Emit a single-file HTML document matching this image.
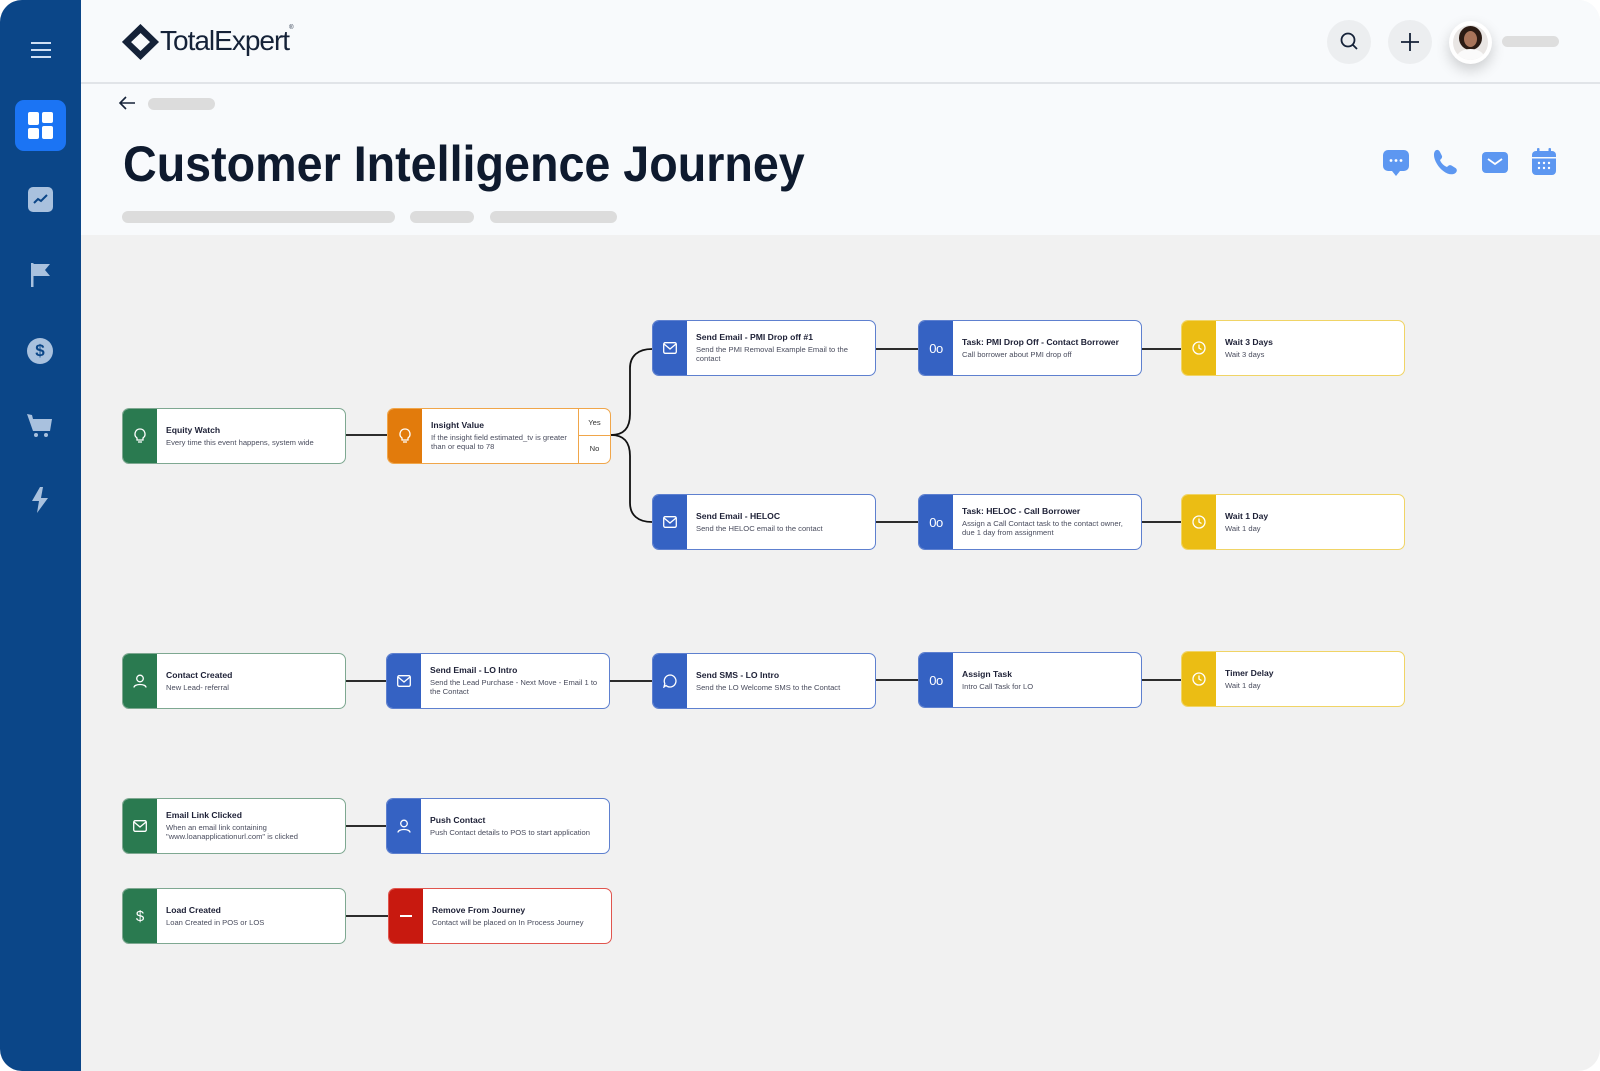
<!DOCTYPE html>
<html><head><meta charset="utf-8">
<style>
*{box-sizing:border-box;margin:0;padding:0}
html,body{width:1600px;height:1071px;overflow:hidden;background:#fff;font-family:"Liberation Sans",sans-serif}
#app{position:absolute;left:0;top:0;width:1600px;height:1071px;border-radius:22px;overflow:hidden;background:#f1f1f1}
#side{position:absolute;left:0;top:0;width:81px;height:1071px;background:#0b4688}
#head{position:absolute;left:81px;top:0;width:1519px;height:235px;background:#f8fafc}
#head .line{position:absolute;left:0;top:82px;width:100%;height:1.5px;background:#e1e4e8}
.bar{position:absolute;background:#dcdcdc;border-radius:7px;height:12px}
.node{position:absolute;width:224px;height:56px;background:#fff;border:1.5px solid;border-radius:7px;overflow:hidden}
.node .st{position:absolute;left:0;top:0;bottom:0;width:34px;display:flex;align-items:center;justify-content:center}
.node .tx{position:absolute;left:43px;top:0;bottom:0;right:6px;display:flex;flex-direction:column;justify-content:center}
.node .t{font-size:8.6px;font-weight:bold;color:#1d2036;margin-bottom:4px;white-space:nowrap}
.node .d{font-size:7.6px;color:#4a4d5e;line-height:8.6px}
.g{border-color:#7ea891}.g .st{background:#2a7a50}
.o{border-color:#f0a64a}.o .st{background:#e27b0c}
.b{border-color:#5e80cf}.b .st{background:#3562c3}
.y{border-color:#f0d466}.y .st{background:#ebbd14}
.r{border-color:#e0554e}.r .st{background:#c8190f}
svg{display:block}
</style></head><body>
<div id="app">
<div id="side">
  <div style="position:absolute;left:31px;top:42px;width:20px;height:2px;background:#cfe0f5;box-shadow:0 7px 0 #cfe0f5,0 14px 0 #cfe0f5"></div>
  <div style="position:absolute;left:15px;top:100px;width:51px;height:51px;border-radius:9px;background:#1b74f4">
    <div style="position:absolute;left:13px;top:12px;width:11px;height:13px;background:#fff;border-radius:2px"></div>
    <div style="position:absolute;left:27px;top:12px;width:11px;height:11px;background:#fff;border-radius:2px"></div>
    <div style="position:absolute;left:13px;top:28px;width:11px;height:11px;background:#fff;border-radius:2px"></div>
    <div style="position:absolute;left:27px;top:26px;width:11px;height:13px;background:#fff;border-radius:2px"></div>
  </div>
  <div style="position:absolute;left:28px;top:187px;width:25px;height:25px;border-radius:5px;background:#a9c1de">
    <svg width="25" height="25"><polyline points="6,16 10,12 13,14 19,8" fill="none" stroke="#0b4688" stroke-width="2"/></svg></div>
  <svg style="position:absolute;left:30px;top:262px" width="22" height="26"><rect x="1" y="1" width="2.5" height="24" fill="#a9c1de"/><path d="M3 2H20L15 8L20 14H3Z" fill="#a9c1de"/></svg>
  <div style="position:absolute;left:27px;top:338px;width:26px;height:26px;border-radius:50%;background:#a9c1de;color:#0b4688;font-size:17px;font-weight:bold;text-align:center;line-height:26px">$</div>
  <svg style="position:absolute;left:26px;top:412px" width="28" height="26"><path d="M1 2L6 3L7 7H26L24 19H7Z" fill="#a9c1de"/><circle cx="10" cy="23" r="2" fill="#a9c1de"/><circle cx="20" cy="23" r="2" fill="#a9c1de"/></svg>
  <svg style="position:absolute;left:30px;top:487px" width="20" height="26"><path d="M10 0L2 14H9L7 26L18 11H11L13 0Z" fill="#a9c1de"/></svg>
</div>
<div id="head">
  <div class="line"></div>
  <svg style="position:absolute;left:41px;top:24px" width="37" height="36"><path d="M18.5 0L37 18L18.5 36L0 18Z" fill="#152238"/><path d="M18.5 9L28 18L18.5 27L9 18Z" fill="#f8fafc"/><path d="M18.5 0L18.5 9L9 18L0 18Z" fill="#152238"/></svg>
  <div style="position:absolute;left:79px;top:25px;font-size:28px;color:#152238;letter-spacing:-1px">TotalExpert<span style="font-size:6px;vertical-align:top">®</span></div>
  <svg style="position:absolute;left:37px;top:96px" width="18" height="14"><path d="M17 7H2M8 1L2 7L8 13" fill="none" stroke="#152238" stroke-width="1.6"/></svg>
  <div class="bar" style="left:67px;top:98px;width:67px;height:12px"></div>
  <div id="title" style="position:absolute;left:42px;top:135px;font-size:50px;font-weight:bold;color:#0e1a2e;white-space:nowrap;transform-origin:0 0;letter-spacing:0px">Customer Intelligence Journey</div>
  <div class="bar" style="left:41px;top:211px;width:273px"></div>
  <div class="bar" style="left:329px;top:211px;width:64px"></div>
  <div class="bar" style="left:409px;top:211px;width:127px"></div>
  <div style="position:absolute;left:1246px;top:20px;width:44px;height:44px;border-radius:50%;background:#eceef0"><svg width="44" height="44"><circle cx="21" cy="20" r="6.5" fill="none" stroke="#152238" stroke-width="1.8"/><path d="M26 25L30 29" stroke="#152238" stroke-width="1.8"/></svg></div>
  <div style="position:absolute;left:1307px;top:20px;width:44px;height:44px;border-radius:50%;background:#eceef0"><svg width="44" height="44"><path d="M22 13V31M13 22H31" stroke="#152238" stroke-width="1.8"/></svg></div>
  <div style="position:absolute;left:1368px;top:21px;width:43px;height:43px;border-radius:50%;background:#fff;box-shadow:0 6px 14px rgba(0,0,0,.18)">
    <div style="position:absolute;left:4px;top:4px;width:35px;height:35px;border-radius:50%;background:#e9e6e4;overflow:hidden">
      <div style="position:absolute;left:6px;top:1px;width:23px;height:24px;border-radius:50%;background:#2b1b14"></div>
      <div style="position:absolute;left:11px;top:6px;width:13px;height:16px;border-radius:50%;background:#a8745a"></div>
      <div style="position:absolute;left:4px;top:24px;width:27px;height:16px;border-radius:50%;background:#fafafa"></div>
    </div></div>
  <div class="bar" style="left:1421px;top:36px;width:57px;height:11px;background:#dedede"></div>
  <svg style="position:absolute;left:1302px;top:150px" width="26" height="26"><rect x="0" y="0" width="26" height="21" rx="5" fill="#5d97f1"/><path d="M9 21L13 26L17 21Z" fill="#5d97f1"/><circle cx="8" cy="10.5" r="1.4" fill="#fff"/><circle cx="13" cy="10.5" r="1.4" fill="#fff"/><circle cx="18" cy="10.5" r="1.4" fill="#fff"/></svg>
  <svg style="position:absolute;left:1351px;top:149px" width="27" height="27"><path d="M3 2C5 0 7 1 8 3L10 7C10.5 9 9 10 8 11C9 14 12 17 15 18C16 17 17.5 15.5 19.5 16.5L23.5 19C25.5 20.5 25 22.5 23.5 24C18 28 9 22 5 15C2 10 1 5 3 2Z" fill="#5d97f1"/></svg>
  <svg style="position:absolute;left:1401px;top:152px" width="26" height="21"><rect width="26" height="21" rx="4" fill="#5d97f1"/><path d="M6 7L13 12L20 7" fill="none" stroke="#fff" stroke-width="1.8"/></svg>
  <svg style="position:absolute;left:1451px;top:148px" width="24" height="27"><rect y="3" width="24" height="24" rx="4" fill="#5d97f1"/><rect x="5" y="0" width="2.5" height="6" rx="1" fill="#5d97f1"/><rect x="16.5" y="0" width="2.5" height="6" rx="1" fill="#5d97f1"/><rect x="0" y="9" width="24" height="1.5" fill="#f8fafc"/><g fill="#fff"><circle cx="7" cy="15" r="1.2"/><circle cx="12" cy="15" r="1.2"/><circle cx="17" cy="15" r="1.2"/><circle cx="7" cy="20" r="1.2"/><circle cx="12" cy="20" r="1.2"/><circle cx="17" cy="20" r="1.2"/></g></svg>
</div>

<svg style="position:absolute;left:0;top:0" width="1600" height="1071">
 <g stroke="#111" stroke-width="1.8" fill="none">
  <path d="M346 435H387"/>
  <path d="M611 435C624 435 630 428 630 414V368C630 356 638 349 652 349"/>
  <path d="M611 435C624 435 630 442 630 456V503C630 515 638 522 652 522"/>
  <path d="M876 349H918M1141 349H1181"/>
  <path d="M876 522H918M1141 522H1181"/>
  <path d="M346 681H386M609 681H652M876 680H918M1141 680H1181"/>
  <path d="M346 826H386"/>
  <path d="M346 916H388"/>
 </g>
</svg>

<div class="node g" style="left:122px;top:408px"><div class="st"><svg width="14" height="16"><path d="M7 1A5 5 0 0 0 4 10V12H10V10A5 5 0 0 0 7 1Z" fill="none" stroke="#fff" stroke-width="1.3"/><path d="M5 14H9" stroke="#fff" stroke-width="1.3"/></svg></div><div class="tx"><div class="t">Equity Watch</div><div class="d">Every time this event happens, system wide</div></div></div>

<div class="node o" style="left:387px;top:408px"><div class="st"><svg width="14" height="16"><path d="M7 1A5 5 0 0 0 4 10V12H10V10A5 5 0 0 0 7 1Z" fill="none" stroke="#fff" stroke-width="1.3"/><path d="M5 14H9" stroke="#fff" stroke-width="1.3"/></svg></div><div class="tx" style="right:40px"><div class="t">Insight Value</div><div class="d">If the insight field estimated_tv is greater than or equal to 78</div></div>
 <div style="position:absolute;right:0;top:0;width:32px;height:100%;border-left:1.5px solid #f0a64a;font-size:7.6px;color:#333;text-align:center"><div style="height:27px;line-height:27px;border-bottom:1.5px solid #f0a64a">Yes</div><div style="line-height:26px">No</div></div></div>

<div class="node b" style="left:652px;top:320px"><div class="st"><svg width="14" height="12"><rect x="0.7" y="0.7" width="12.6" height="10.6" rx="1.5" fill="none" stroke="#fff" stroke-width="1.3"/><path d="M1 2L7 7L13 2" fill="none" stroke="#fff" stroke-width="1.3"/></svg></div><div class="tx"><div class="t">Send Email - PMI Drop off #1</div><div class="d">Send the PMI Removal Example Email to the contact</div></div></div>
<div class="node b" style="left:918px;top:320px"><div class="st"><span style="color:#fff;font-size:13px;letter-spacing:-0.5px">0o</span></div><div class="tx"><div class="t">Task: PMI Drop Off - Contact Borrower</div><div class="d">Call borrower about PMI drop off</div></div></div>
<div class="node y" style="left:1181px;top:320px"><div class="st"><svg width="14" height="14"><circle cx="7" cy="7" r="6" fill="none" stroke="#fff" stroke-width="1.3"/><path d="M7 3.5V7L9.5 8.5" fill="none" stroke="#fff" stroke-width="1.3"/></svg></div><div class="tx"><div class="t">Wait 3 Days</div><div class="d">Wait 3 days</div></div></div>

<div class="node b" style="left:652px;top:494px"><div class="st"><svg width="14" height="12"><rect x="0.7" y="0.7" width="12.6" height="10.6" rx="1.5" fill="none" stroke="#fff" stroke-width="1.3"/><path d="M1 2L7 7L13 2" fill="none" stroke="#fff" stroke-width="1.3"/></svg></div><div class="tx"><div class="t">Send Email - HELOC</div><div class="d">Send the HELOC email to the contact</div></div></div>
<div class="node b" style="left:918px;top:494px"><div class="st"><span style="color:#fff;font-size:13px;letter-spacing:-0.5px">0o</span></div><div class="tx"><div class="t">Task: HELOC - Call Borrower</div><div class="d">Assign a Call Contact task to the contact owner, due 1 day from assignment</div></div></div>
<div class="node y" style="left:1181px;top:494px"><div class="st"><svg width="14" height="14"><circle cx="7" cy="7" r="6" fill="none" stroke="#fff" stroke-width="1.3"/><path d="M7 3.5V7L9.5 8.5" fill="none" stroke="#fff" stroke-width="1.3"/></svg></div><div class="tx"><div class="t">Wait 1 Day</div><div class="d">Wait 1 day</div></div></div>

<div class="node g" style="left:122px;top:653px"><div class="st"><svg width="14" height="14"><circle cx="7" cy="4.5" r="3.3" fill="none" stroke="#fff" stroke-width="1.3"/><path d="M1 13.5C1 9.5 13 9.5 13 13.5" fill="none" stroke="#fff" stroke-width="1.3"/></svg></div><div class="tx"><div class="t">Contact Created</div><div class="d">New Lead- referral</div></div></div>
<div class="node b" style="left:386px;top:653px"><div class="st"><svg width="14" height="12"><rect x="0.7" y="0.7" width="12.6" height="10.6" rx="1.5" fill="none" stroke="#fff" stroke-width="1.3"/><path d="M1 2L7 7L13 2" fill="none" stroke="#fff" stroke-width="1.3"/></svg></div><div class="tx"><div class="t">Send Email - LO Intro</div><div class="d">Send the Lead Purchase - Next Move - Email 1 to the Contact</div></div></div>
<div class="node b" style="left:652px;top:653px"><div class="st"><svg width="14" height="14"><path d="M7 1A6 6 0 1 1 3 11.5L1 13L1.8 9.5A6 6 0 0 1 7 1Z" fill="none" stroke="#fff" stroke-width="1.3"/></svg></div><div class="tx"><div class="t">Send SMS - LO Intro</div><div class="d">Send the LO Welcome SMS to the Contact</div></div></div>
<div class="node b" style="left:918px;top:652px"><div class="st"><span style="color:#fff;font-size:13px;letter-spacing:-0.5px">0o</span></div><div class="tx"><div class="t">Assign Task</div><div class="d">Intro Call Task for LO</div></div></div>
<div class="node y" style="left:1181px;top:651px"><div class="st"><svg width="14" height="14"><circle cx="7" cy="7" r="6" fill="none" stroke="#fff" stroke-width="1.3"/><path d="M7 3.5V7L9.5 8.5" fill="none" stroke="#fff" stroke-width="1.3"/></svg></div><div class="tx"><div class="t">Timer Delay</div><div class="d">Wait 1 day</div></div></div>

<div class="node g" style="left:122px;top:798px"><div class="st"><svg width="14" height="12"><rect x="0.7" y="0.7" width="12.6" height="10.6" rx="1.5" fill="none" stroke="#fff" stroke-width="1.3"/><path d="M1 2L7 7L13 2" fill="none" stroke="#fff" stroke-width="1.3"/></svg></div><div class="tx"><div class="t">Email Link Clicked</div><div class="d">When an email link containing "www.loanapplicationurl.com" is clicked</div></div></div>
<div class="node b" style="left:386px;top:798px"><div class="st"><svg width="14" height="14"><circle cx="7" cy="4.5" r="3.3" fill="none" stroke="#fff" stroke-width="1.3"/><path d="M1 13.5C1 9.5 13 9.5 13 13.5" fill="none" stroke="#fff" stroke-width="1.3"/></svg></div><div class="tx"><div class="t">Push Contact</div><div class="d">Push Contact details to POS to start application</div></div></div>

<div class="node g" style="left:122px;top:888px"><div class="st"><span style="color:#fff;font-size:15px">$</span></div><div class="tx"><div class="t">Load Created</div><div class="d">Loan Created in POS or LOS</div></div></div>
<div class="node r" style="left:388px;top:888px"><div class="st"><div style="width:12px;height:1.6px;background:#fff"></div></div><div class="tx"><div class="t">Remove From Journey</div><div class="d">Contact will be placed on In Process Journey</div></div></div>
</div>
<script>
var t=document.getElementById('title');var w=t.scrollWidth;t.style.transform='scaleX('+(682/w)+')';
</script>
</body></html>
